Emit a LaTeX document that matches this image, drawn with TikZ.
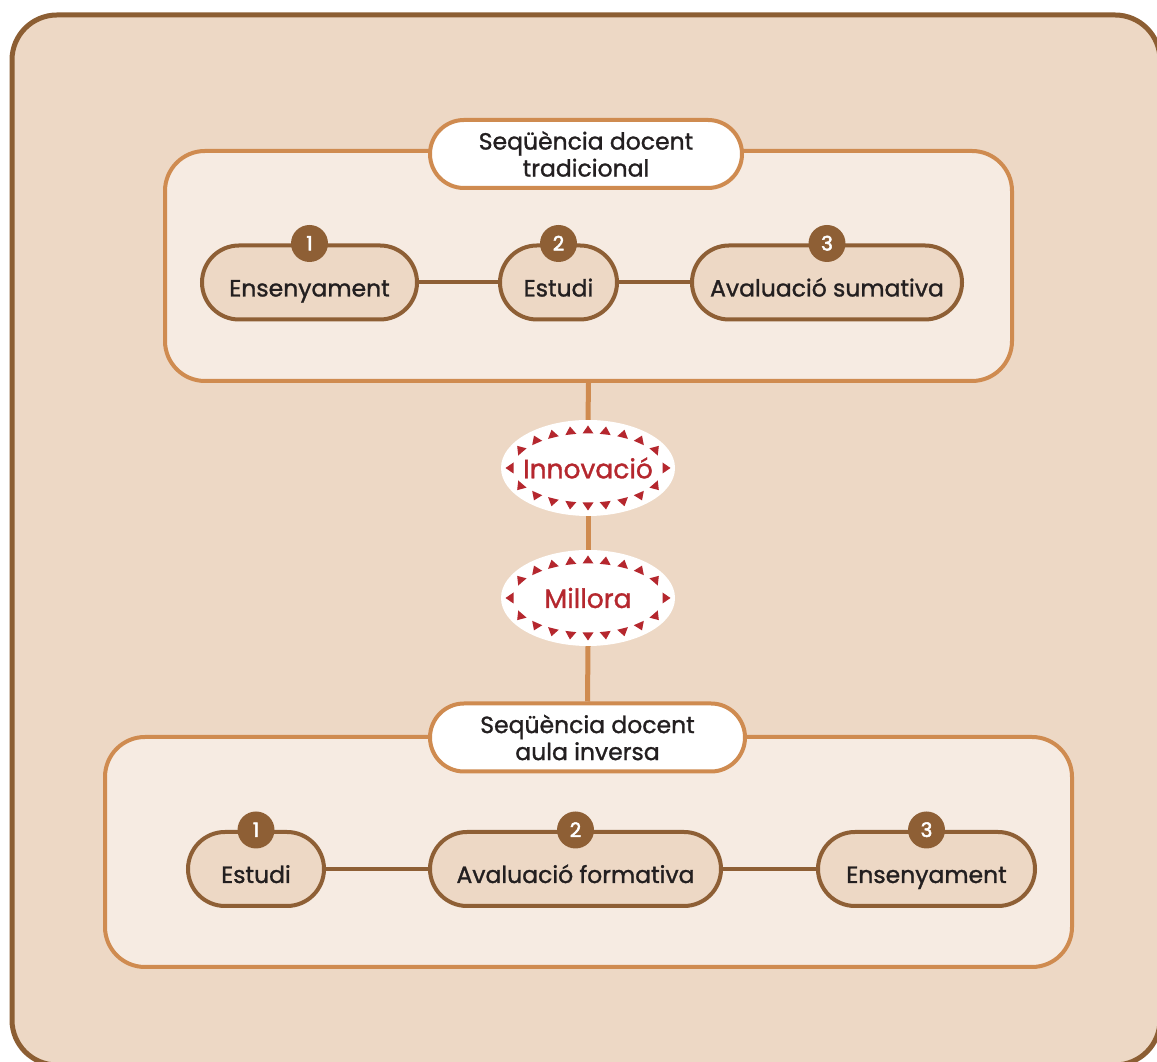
\documentclass[tikz,border=0pt]{standalone}
\usepackage{fontspec}
\setmainfont{Poppins}[FakeBold=1.2]
\newfontfamily\numfont{Poppins}[FakeBold=2.5]
\usetikzlibrary{shapes.geometric,calc}
\definecolor{outerfill}{HTML}{EDD8C5}
\definecolor{outerline}{HTML}{8C5E33}
\definecolor{panelfill}{HTML}{F6EBE2}
\definecolor{panelline}{HTML}{CF8B50}
\definecolor{stepline}{HTML}{8E5F35}
\definecolor{innov}{HTML}{B5272E}
\definecolor{txt}{HTML}{231F20}
\newcommand{\lowr}[1]{\raisebox{-8.5pt}{#1}}
\begin{document}
\begin{tikzpicture}[x=1pt,y=1pt,
  panel/.style={rectangle, draw=panelline, fill=panelfill, line width=4pt, rounded corners=40pt, inner sep=0pt, minimum height=230pt},
  titlepill/.style={rectangle, draw=panelline, fill=white, line width=4pt, rounded corners=34pt, inner sep=0pt, minimum height=68pt, align=center, text=txt, font=\fontsize{23.5}{27}\selectfont},
  stepbox/.style={rectangle, draw=stepline, fill=outerfill, line width=4pt, rounded corners=37pt, minimum height=74pt, inner sep=0pt, text=txt, text height=17pt, text depth=6pt, font=\fontsize{23.5}{26}\selectfont},
  badge/.style={circle, fill=stepline, minimum size=37pt, inner sep=0pt, text=white, text height=14pt, text depth=0pt, font=\numfont\fontsize{20}{20}\selectfont},
  link/.style={draw=stepline, line width=4pt},
  vlink/.style={draw=panelline, line width=5pt},
  oval/.style={ellipse, fill=white, minimum width=174pt, minimum height=96pt, inner sep=0pt},
  ovaltext/.style={inner sep=0pt, text=innov, font=\fontsize{26.5}{26.5}\selectfont},
  tri/.style={fill=innov}]
\useasboundingbox (0,0) rectangle (1157,1062);
\fill[white] (0,0) rectangle (1157,1062);
% outer frame
\draw[outerline, fill=outerfill, line width=5pt, rounded corners=45pt] (12,-3) rectangle (1160,1047);

% panels
\node[panel, minimum width=847pt] (top) at (588.5,796) {};
\node[panel, minimum width=967pt] (bot) at (588.5,210) {};

% ellipses
\node[oval] (inno) at (588,594) {};
\node[ovaltext] (innotxt) at (inno.center) {Innovació};
\node[oval] (mill) at (588,464) {};
\node[ovaltext] (milltxt) at (mill.center) {Millora};

% titles
\node[titlepill, minimum width=312pt] (t1) at (586,908) {Seqüència docent\\tradicional};
\node[titlepill, minimum width=315pt] (t2) at (587.5,324.5) {Seqüència docent\\aula inversa};

% vertical connectors
\draw[vlink] (top.south) -- (inno.north);
\draw[vlink] (inno.south) -- (mill.north);
\draw[vlink] (mill.south) -- (t2.north);

% triangles around ovals
\foreach \ov in {inno,mill}{
  \begin{scope}[shift={(\ov.center)}]
  \foreach \t in {0,29.5,48,63,77,90,103,117,132,150.5,180,209.5,228,243,257,270,283,297,312,330.5}{
    \pgfmathsetmacro\nn{atan2(sin(\t)/38,cos(\t)/78)}
    \fill[tri, shift={({78*cos(\t)},{38*sin(\t)})}, rotate=\nn] (4.5,0) -- (-3.5,5.5) -- (-3.5,-5.5) -- cycle;
  }
  \end{scope}
}

% top steps
\node[stepbox, minimum width=215pt] (a1) at (309.5,779.5) {\lowr{Ensenyament}};
\node[stepbox, minimum width=117pt] (a2) at (558.5,779.5) {\lowr{Estudi}};
\node[stepbox, minimum width=270pt] (a3) at (827,779.5) {\lowr{Avaluació sumativa}};
\draw[link] (a1.east) -- (a2.west);
\draw[link] (a2.east) -- (a3.west);
\node[badge] (n1) at (a1.north) {1};
\node[badge] (n2) at (a2.north) {2};
\node[badge] (n3) at (a3.north) {3};

% bottom steps
\node[stepbox, minimum width=136pt] (b1) at (256,193) {\lowr{Estudi}};
\node[stepbox, minimum width=291pt] (b2) at (575.5,193) {\lowr{Avaluació formativa}};
\node[stepbox, minimum width=217pt] (b3) at (926.5,193) {\lowr{Ensenyament}};
\draw[link] (b1.east) -- (b2.west);
\draw[link] (b2.east) -- (b3.west);
\node[badge] (m1) at (b1.north) {1};
\node[badge] (m2) at (b2.north) {2};
\node[badge] (m3) at (b3.north) {3};
\end{tikzpicture}
\end{document}
